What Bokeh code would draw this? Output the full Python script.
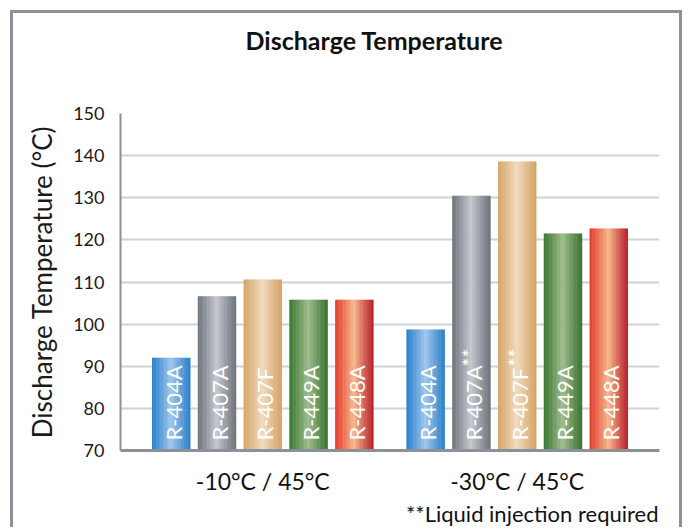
import math
from bokeh.plotting import figure
from bokeh.models import ColumnDataSource, FactorRange, Title, FixedTicker
from bokeh.transform import dodge
from bokeh.core.properties import value
from bokeh.embed import file_html
from bokeh.resources import INLINE

# ---------------- data ----------------
chart_title = "Discharge Temperature"
y_label = "Discharge Temperature (°C)"
conditions = ["-10°C / 45°C", "-30°C / 45°C"]
refrigerants = ["R-404A", "R-407A", "R-407F", "R-449A", "R-448A"]
temps_minus10 = [92.0, 106.6, 110.6, 105.8, 105.8]
temps_minus30 = [98.7, 130.5, 138.6, 121.5, 122.7]
notes_minus10 = ["", "", "", "", ""]
notes_minus30 = ["", "**", "**", "", ""]
y_ticks = [70, 80, 90, 100, 110, 120, 130, 140, 150]
footnote = "**Liquid injection required"

# ---------------- styles ----------------
FONT = "Lato"
palette = {
    "R-404A": ("#2a7fc9", "#a2c8ee", "#2c80c8"),
    "R-407A": ("#70757e", "#c6c9d0", "#6d727b"),
    "R-407F": ("#d5a66a", "#f2dcbe", "#d3a367"),
    "R-449A": ("#3a7831", "#a2bd8f", "#38742f"),
    "R-448A": ("#e53d2e", "#f6bb8d", "#bb1d2a"),
}

def hex2rgb(h):
    h = h.lstrip("#")
    return [int(h[i:i + 2], 16) for i in (0, 2, 4)]

def mix(a, b, t):
    ra, rb = hex2rgb(a), hex2rgb(b)
    return "#%02x%02x%02x" % tuple(int(round(x + (y - x) * t)) for x, y in zip(ra, rb))

factors = [(c, r) for c in conditions for r in refrigerants]
tops = temps_minus10 + temps_minus30
notes = notes_minus10 + notes_minus30
names = [r for _ in conditions for r in refrigerants]

W_PX, H_PX = 672, 517
x_range = FactorRange(*factors, factor_padding=0.0, group_padding=0.557,
                      range_padding=0.608, range_padding_units="absolute")

p = figure(width=W_PX, height=H_PX, x_range=x_range, y_range=(y_ticks[0], y_ticks[-1]),
           output_backend="svg", toolbar_location=None,
           min_border_left=107, min_border_right=26, min_border_top=100, min_border_bottom=80)
p.styles = {"margin-left": "10px", "margin-top": "10px",
            "border-left": "3px solid #8c9099", "border-top": "3px solid #8c9099",
            "border-right": "3px solid #8c9099"}
p.outline_line_color = None
p.background_fill_color = "white"
p.border_fill_color = "white"

# blank spacer between the frame and the title
p.add_layout(Title(text=" ", text_font_size="30px", standoff=20), "above")

# title
p.title.text = chart_title
p.title.align = "left"
p.title.offset = 125
p.title.standoff = 8
p.title.text_font = FONT
p.title.text_font_size = "25px"
p.title.text_font_style = "bold"
p.title.text_color = "#111111"

# bars drawn as vertical strips to mimic the cylindrical gradient
N = 28
BW = 0.83
for j in range(N):
    t = (j + 0.5) / N
    off = -BW / 2 + t * BW
    cols = []
    for nm in names:
        l, m, r = palette[nm]
        if t < 0.5:
            cols.append(mix(l, m, (t / 0.5) ** 1.1))
        else:
            cols.append(mix(m, r, ((t - 0.5) / 0.5) ** 0.9))
    src = ColumnDataSource(dict(x=factors, top=tops, c=cols))
    p.vbar(x=dodge("x", off, range=p.x_range), top="top", bottom=y_ticks[0],
           width=BW / N * 1.35, fill_color="c", line_color=None, source=src)

lab_src = ColumnDataSource(dict(x=factors, name=names, note=notes,
                                base=[y_ticks[0]] * len(factors)))
p.text(x="x", y="base", text="name", source=lab_src, angle=math.pi / 2,
       text_align="left", text_baseline="middle", x_offset=2, y_offset=-10,
       text_color="white", text_font=value(FONT), text_font_size="22px")
p.text(x="x", y="base", text="note", source=lab_src, angle=math.pi / 2,
       text_align="left", text_baseline="middle", x_offset=-2, y_offset=-84,
       text_color="white", text_font=value(FONT), text_font_size="21px")

# axes
p.xgrid.grid_line_color = None
p.ygrid.grid_line_color = "#d0d2d9"
p.ygrid.grid_line_width = 2
p.yaxis.ticker = FixedTicker(ticks=y_ticks)
p.yaxis.axis_line_color = "#8c9099"
p.yaxis.axis_line_width = 2
p.yaxis.major_tick_line_color = None
p.yaxis.minor_tick_line_color = None
p.yaxis.major_tick_out = 0
p.yaxis.major_tick_in = 0
p.yaxis.major_label_standoff = 16
p.yaxis.major_label_text_font = FONT
p.yaxis.major_label_text_font_size = "18px"
p.yaxis.major_label_text_color = "#1a1a1a"
p.yaxis.axis_label = y_label
p.yaxis.axis_label_text_font = FONT
p.yaxis.axis_label_text_font_size = "26px"
p.yaxis.axis_label_text_font_style = "normal"
p.yaxis.axis_label_text_color = "#1a1a1a"
p.yaxis.axis_label_standoff = 12

p.xaxis.axis_line_color = "#8c9099"
p.xaxis.axis_line_width = 3
p.xaxis.major_tick_line_color = None
p.xaxis.minor_tick_line_color = None
p.xaxis.major_tick_out = 0
p.xaxis.major_tick_in = 0
p.xaxis.major_label_text_alpha = 0
p.xaxis.major_label_text_font_size = "1px"
p.xaxis.major_label_standoff = 16
p.xaxis.separator_line_color = None
p.xaxis.group_text_font = FONT
p.xaxis.group_text_font_size = "23px"
p.xaxis.group_text_font_style = "normal"
p.xaxis.group_text_color = "#111111"

# footnote below the axis, right-aligned to the frame
p.add_layout(Title(text=footnote, align="right", offset=1, standoff=0,
                   text_font=FONT, text_font_size="22px", text_font_style="normal",
                   text_color="#111111"), "below")

open("out.html", "w").write(file_html(p, INLINE))
